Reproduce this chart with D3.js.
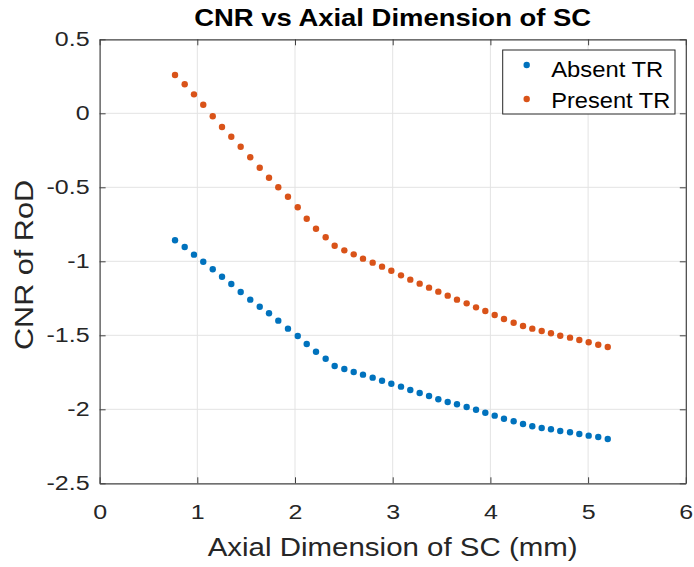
<!DOCTYPE html>
<html>
<head>
<meta charset="utf-8">
<script src="https://cdn.jsdelivr.net/npm/d3@7"></script>
<style>
  body { margin: 0; background: #fff; }
  text { font-family: "Liberation Sans", Arial, Helvetica, sans-serif; fill: #262626; }
</style>
</head>
<body>
<div id="chart"></div>
<script>
// axial dimension (mm)
const axialDim = [0.772, 0.871, 0.966, 1.061, 1.158, 1.253, 1.348, 1.444, 1.542, 1.639,
  1.734, 1.829, 1.928, 2.028, 2.120, 2.215, 2.314, 2.406, 2.505, 2.601,
  2.696, 2.795, 2.891, 2.986, 3.085, 3.180, 3.276, 3.372, 3.467, 3.563,
  3.658, 3.757, 3.853, 3.948, 4.044, 4.139, 4.238, 4.334, 4.429, 4.525,
  4.620, 4.715, 4.815, 4.910, 5.006, 5.104, 5.201];

const absentTR = [-0.858, -0.903, -0.955, -1.003, -1.054, -1.104, -1.153, -1.207, -1.259, -1.307,
  -1.351, -1.401, -1.455, -1.505, -1.559, -1.611, -1.658, -1.707, -1.728, -1.748,
  -1.766, -1.786, -1.807, -1.827, -1.847, -1.870, -1.890, -1.910, -1.932, -1.951,
  -1.966, -1.984, -2.003, -2.023, -2.043, -2.064, -2.081, -2.099, -2.115, -2.126,
  -2.135, -2.147, -2.155, -2.167, -2.178, -2.187, -2.201];

const presentTR = [0.259, 0.196, 0.128, 0.058, -0.020, -0.093, -0.158, -0.226, -0.297, -0.368,
  -0.435, -0.500, -0.564, -0.635, -0.712, -0.780, -0.838, -0.895, -0.926, -0.953,
  -0.982, -1.009, -1.036, -1.064, -1.095, -1.124, -1.151, -1.178, -1.205, -1.232,
  -1.259, -1.284, -1.311, -1.336, -1.363, -1.390, -1.415, -1.437, -1.455, -1.471,
  -1.486, -1.503, -1.516, -1.532, -1.547, -1.564, -1.579];

const seriesNames = ["Absent TR", "Present TR"];
const xTicks = [0, 1, 2, 3, 4, 5, 6];
const yTicks = [0.5, 0, -0.5, -1, -1.5, -2, -2.5];

const width = 694, height = 567;
const margin = {top: 39.3, right: 8.2, bottom: 83.7, left: 99.6};
const colors = ["#0072BD", "#D95319"];

const svg = d3.select("#chart").append("svg")
    .attr("width", width)
    .attr("height", height);

const x = d3.scaleLinear().domain([0, 6]).range([margin.left, width - margin.right]);
const y = d3.scaleLinear().domain([-2.5, 0.5]).range([height - margin.bottom, margin.top]);

//The original font is wider than Arial, so stretch text horizontally
const stretch = (sel, k) => sel.each(function () {
    const w = this.getComputedTextLength();
    d3.select(this).attr("textLength", w * k).attr("lengthAdjust", "spacingAndGlyphs");
});

//Grid
const grid = svg.append("g").attr("stroke", "#e3e3e3").attr("stroke-width", 1);
grid.selectAll(".gx").data(xTicks.slice(1, -1)).enter().append("line")
    .attr("x1", d => x(d)).attr("x2", d => x(d))
    .attr("y1", y(0.5)).attr("y2", y(-2.5));
grid.selectAll(".gy").data(yTicks.slice(1, -1)).enter().append("line")
    .attr("y1", d => y(d)).attr("y2", d => y(d))
    .attr("x1", x(0)).attr("x2", x(6));

//Axes (box style, ticks inward on all four sides)
const axisStyle = g => {
    g.select(".domain").attr("stroke", "#404040").attr("stroke-width", 1.2);
    g.selectAll(".tick line").attr("stroke", "#404040");
    g.selectAll("text")
        .attr("font-family", "Liberation Sans, Arial, sans-serif")
        .style("font-size", "20.5px").attr("fill", "#262626");
};

svg.append("g")
    .attr("transform", `translate(0,${y(-2.5)})`)
    .call(d3.axisBottom(x).tickValues(xTicks).tickSizeInner(-6).tickSizeOuter(0).tickPadding(0).tickFormat(d3.format("d")))
    .call(axisStyle)
    .selectAll("text").attr("dy", null).attr("y", 35.5);

svg.append("g")
    .attr("transform", `translate(0,${y(0.5)})`)
    .call(d3.axisTop(x).tickValues(xTicks).tickSizeInner(-6).tickSizeOuter(0).tickFormat(""))
    .call(axisStyle);

svg.append("g")
    .attr("transform", `translate(${x(0)},0)`)
    .call(d3.axisLeft(y).tickValues(yTicks).tickSizeInner(-6).tickSizeOuter(0).tickPadding(10).tickFormat(d => d))
    .call(axisStyle);

svg.append("g")
    .attr("transform", `translate(${x(6)},0)`)
    .call(d3.axisRight(y).tickValues(yTicks).tickSizeInner(-6).tickSizeOuter(0).tickFormat(""))
    .call(axisStyle);

stretch(svg.selectAll(".tick text"), 1.22);

//Points
const series = [absentTR, presentTR];
series.forEach((vals, s) => {
    svg.append("g").selectAll("circle")
        .data(vals)
        .enter()
        .append("circle")
        .attr("cx", (d, i) => x(axialDim[i]))
        .attr("cy", d => y(d))
        .attr("r", 3.2)
        .attr("fill", colors[s]);
});

//Title and labels
const midX = (x(0) + x(6)) / 2;
svg.append("text")
    .attr("x", midX).attr("y", 26)
    .attr("text-anchor", "middle")
    .style("font-size", "24.5px").style("font-weight", "bold")
    .style("fill", "#000")
    .attr("textLength", 397).attr("lengthAdjust", "spacingAndGlyphs")
    .text("CNR vs Axial Dimension of SC");

svg.append("text")
    .attr("x", midX).attr("y", 556)
    .attr("text-anchor", "middle")
    .style("font-size", "26px")
    .attr("textLength", 370).attr("lengthAdjust", "spacingAndGlyphs")
    .text("Axial Dimension of SC (mm)");

svg.append("text")
    .attr("transform", `translate(33,265) rotate(-90)`)
    .attr("text-anchor", "middle")
    .style("font-size", "26.5px")
    .attr("textLength", 170).attr("lengthAdjust", "spacingAndGlyphs")
    .text("CNR of RoD");

//Legend
const legend = svg.append("g").attr("transform", "translate(502.7,50)");
legend.append("rect")
    .attr("width", 172.3).attr("height", 64)
    .attr("fill", "#fff").attr("stroke", "#262626").attr("stroke-width", 1);
const legendWidths = [112, 119];
seriesNames.forEach((name, i) => {
    legend.append("circle")
        .attr("cx", 24).attr("cy", 15 + i * 34)
        .attr("r", 3.2).attr("fill", colors[i]);
    legend.append("text")
        .attr("x", 48.5).attr("y", 26.7 + i * 31.6)
        .style("font-size", "22.5px")
        .style("fill", "#000")
        .attr("textLength", legendWidths[i]).attr("lengthAdjust", "spacingAndGlyphs")
        .text(name);
});
</script>
</body>
</html>
